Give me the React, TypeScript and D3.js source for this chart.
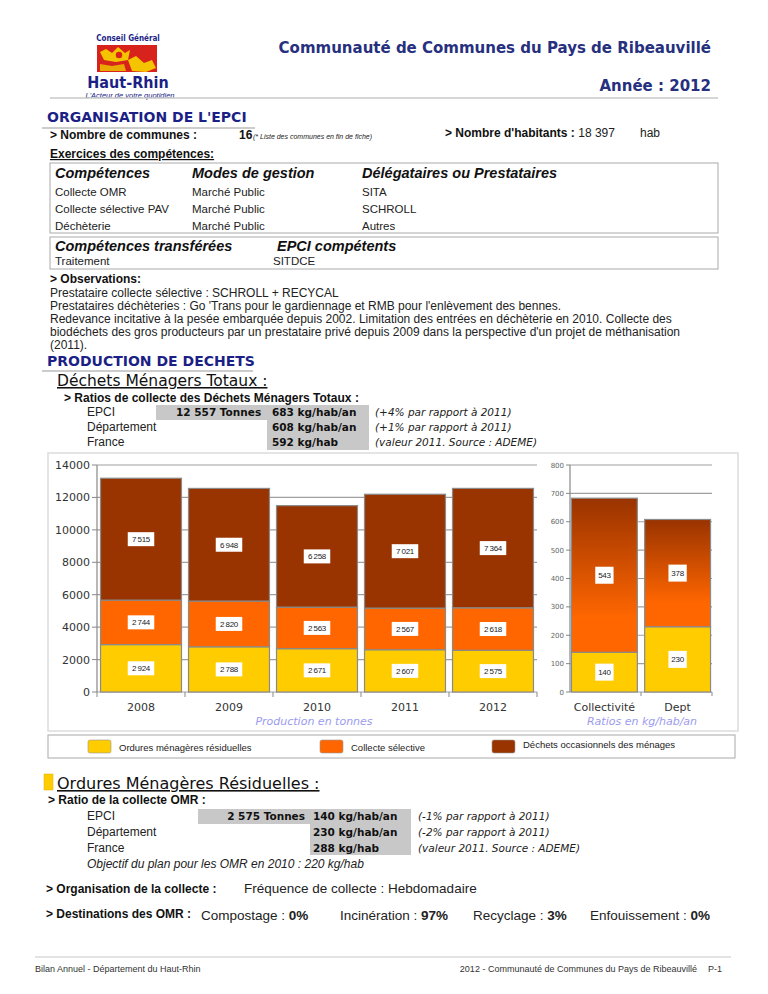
import * as d3 from "d3";

// Production en tonnes
const years = ["2008", "2009", "2010", "2011", "2012"];
const omr = [2924, 2788, 2671, 2607, 2575];
const collecteSelective = [2744, 2820, 2563, 2567, 2618];
const dechetsOccasionnels = [7515, 6948, 6258, 7021, 7364];
const tonnesTicks = [0, 2000, 4000, 6000, 8000, 10000, 12000, 14000];

// Ratios en kg/hab/an
const ratioCats = ["Collectivité", "Dept"];
const ratioOmr = [140, 230];
const ratioAutres = [543, 378];
const ratioTicks = [0, 100, 200, 300, 400, 500, 600, 700, 800];

const legendLabels = ["Ordures ménagères résiduelles", "Collecte sélective", "Déchets occasionnels des ménages"];
const colors = ["#FFCC00", "#FF6600", "#993300"];

const competences = [
  ["Collecte OMR", "Marché Public", "SITA"],
  ["Collecte sélective PAV", "Marché Public", "SCHROLL"],
  ["Déchèterie", "Marché Public", "Autres"],
];
const observations = [
  "Prestataire collecte sélective : SCHROLL + RECYCAL",
  "Prestataires déchèteries : Go 'Trans pour le gardiennage et RMB pour l'enlèvement des bennes.",
  "Redevance incitative à la pesée embarquée depuis 2002. Limitation des entrées en déchèterie en 2010. Collecte des",
  "biodéchets des gros producteurs par un prestataire privé depuis 2009 dans la perspective d'un projet de méthanisation",
  "(2011).",
];

const fr = d3.formatLocale({ decimal: ",", thousands: "\u2009", grouping: [3], currency: ["", ""] });
const fmt = fr.format(",");

const SANS = "'Liberation Sans', Arial, sans-serif";
const VERD = "'DejaVu Sans', Verdana, sans-serif";
const NAVY = "#1B1F86";
const TITLE = "#26307E";

// chart geometry
const Y0 = 692;
const YTOP = 465;

function DataLabel({ x, y, text, h = 14 }: { x: number; y: number; text: string; h?: number }) {
  const w = text.length * 4.1 + 6;
  return (
    <g>
      <rect x={x - w / 2} y={y - h / 2} width={w} height={h} fill="#fff" />
      <text x={x} y={y + 3} fontSize={8} fontFamily={SANS} fill="#222" textAnchor="middle" letterSpacing={-0.3}>
        {text}
      </text>
    </g>
  );
}

function TonnesChart() {
  const rows = years.map((year, i) => ({ year, omr: omr[i], cs: collecteSelective[i], dom: dechetsOccasionnels[i] }));
  const series = d3.stack<any>().keys(["omr", "cs", "dom"])(rows);
  const x = d3.scaleBand().domain(years).range([97, 537]).paddingInner(0.08).paddingOuter(0.04);
  const y = d3.scaleLinear().domain([0, 14000]).range([Y0, YTOP]);
  const step = x.step();
  return (
    <g>
      {tonnesTicks.map((t) => (
        <g key={t}>
          <line x1={97} x2={537} y1={y(t)} y2={y(t)} stroke="#a0a0a0" strokeWidth={1.2} />
          <line x1={92} x2={97} y1={y(t)} y2={y(t)} stroke="#888" />
          <text x={90} y={y(t) + 4} fontSize={11} fontFamily={VERD} fill="#333" textAnchor="end">
            {t}
          </text>
        </g>
      ))}
      <line x1={97} x2={97} y1={y(14000)} y2={y(0)} stroke="#888" strokeWidth={1.2} />
      {years.map((yr, i) => (
        <line key={yr} x1={97 + i * step} x2={97 + i * step} y1={Y0} y2={Y0 + 5} stroke="#888" />
      ))}
      <line x1={537} x2={537} y1={Y0} y2={Y0 + 5} stroke="#888" />
      {series.map((s, si) =>
        s.map((d, i) => (
          <rect
            key={si + "-" + i}
            x={x(years[i])}
            y={y(d[1])}
            width={x.bandwidth()}
            height={y(d[0]) - y(d[1])}
            fill={colors[si]}
            stroke="#8a8a8a"
            strokeWidth={1.2}
          />
        ))
      )}
      {series.map((s, si) =>
        s.map((d, i) => (
          <DataLabel
            key={"l" + si + "-" + i}
            x={(x(years[i]) as number) + x.bandwidth() / 2}
            y={y((d[0] + d[1]) / 2)}
            text={fmt(d[1] - d[0])}
          />
        ))
      )}
      {years.map((yr) => (
        <text key={yr} x={(x(yr) as number) + x.bandwidth() / 2} y={Y0 + 19} fontSize={11} fontFamily={VERD} fill="#333" textAnchor="middle">
          {yr}
        </text>
      ))}
      <text x={314} y={Y0 + 33} fontSize={11} fontFamily={VERD} fontStyle="italic" fill="#9b9bf0" textAnchor="middle">
        Production en tonnes
      </text>
    </g>
  );
}

function RatioChart() {
  const rows = ratioCats.map((cat, i) => ({ cat, omr: ratioOmr[i], autres: ratioAutres[i] }));
  const series = d3.stack<any>().keys(["omr", "autres"])(rows);
  const x = d3.scaleBand().domain(ratioCats).range([570, 712]).paddingInner(0.1).paddingOuter(0.02);
  const y = d3.scaleLinear().domain([0, 800]).range([Y0, YTOP]);
  return (
    <g>
      <defs>
        <linearGradient id="gradAutres" x1="0" y1="0" x2="0" y2="1">
          <stop offset="0%" stopColor="#993300" />
          <stop offset="78%" stopColor="#FF6600" />
          <stop offset="100%" stopColor="#FF6600" />
        </linearGradient>
      </defs>
      {ratioTicks.map((t) => (
        <g key={t}>
          <line x1={570} x2={712} y1={y(t)} y2={y(t)} stroke="#a0a0a0" strokeWidth={1.2} />
          <line x1={566} x2={570} y1={y(t)} y2={y(t)} stroke="#888" />
          <text x={564} y={y(t) + 2.5} fontSize={7} fontFamily={VERD} fill="#666" textAnchor="end">
            {t}
          </text>
        </g>
      ))}
      <line x1={570} x2={570} y1={y(800)} y2={y(0)} stroke="#888" strokeWidth={1.2} />
      <line x1={641} x2={641} y1={Y0} y2={Y0 + 4} stroke="#888" />
      <line x1={712} x2={712} y1={Y0} y2={Y0 + 4} stroke="#888" />
      {series.map((s, si) =>
        s.map((d, i) => (
          <rect
            key={si + "-" + i}
            x={x(ratioCats[i])}
            y={y(d[1])}
            width={x.bandwidth()}
            height={y(d[0]) - y(d[1])}
            fill={si === 0 ? colors[0] : "url(#gradAutres)"}
            stroke="#8a8a8a"
            strokeWidth={1.2}
          />
        ))
      )}
      {series.map((s, si) =>
        s.map((d, i) => (
          <DataLabel
            key={"l" + si + "-" + i}
            x={(x(ratioCats[i]) as number) + x.bandwidth() / 2}
            y={y((d[0] + d[1]) / 2)}
            text={fmt(d[1] - d[0])}
            h={17}
          />
        ))
      )}
      {ratioCats.map((c) => (
        <text key={c} x={(x(c) as number) + x.bandwidth() / 2} y={Y0 + 19} fontSize={11} fontFamily={VERD} fill="#333" textAnchor="middle">
          {c}
        </text>
      ))}
      <text x={642} y={Y0 + 33} fontSize={11} fontFamily={VERD} fontStyle="italic" fill="#9b9bf0" textAnchor="middle">
        Ratios en kg/hab/an
      </text>
    </g>
  );
}

function Legend() {
  const xs = [88, 320, 492];
  const top = 735;
  return (
    <g>
      <rect x={48} y={top} width={687} height={23} fill="#fff" stroke="#a8a8a8" />
      {legendLabels.map((l, i) => (
        <g key={l}>
          <rect x={xs[i]} y={top + 5} width={23} height={13} rx={2} fill={colors[i]} stroke="#999" strokeWidth={0.6} />
          <text x={xs[i] + 31} y={i === 2 ? top + 13 : top + 16} fontSize={9.5} fontFamily={SANS} fill="#222">
            {l}
          </text>
        </g>
      ))}
    </g>
  );
}

function Logo() {
  return (
    <g>
      <text x={128} y={41} fontSize={8} fontWeight="bold" fontFamily="'DejaVu Sans Condensed', 'DejaVu Sans', sans-serif" fill={NAVY} textAnchor="middle">
        Conseil Général
      </text>
      <rect x={97} y={45} width={60} height={27} fill="#D8231C" />
      <path d="M100,52 L106,49 L112,53 L118,47 L125,53 L130,50 L128,60 L116,62 L104,60 Z" fill="#F5C400" />
      <path d="M128,60 L136,56 L144,63 L152,60 L156,68 L146,72 L132,71 Z" fill="#F5C400" />
      <circle cx={119} cy={55} r={4} fill="#D8231C" stroke="#F5C400" strokeWidth={1.5} />
      <path d="M100,64 L112,66 L124,64 L126,71 L100,71 Z" fill="#E9A900" />
      <text x={128} y={88} fontSize={16} fontWeight="bold" fontFamily="'DejaVu Sans Condensed', 'DejaVu Sans', sans-serif" fill={NAVY} textAnchor="middle">
        Haut-Rhin
      </text>
      <text x={130} y={98} fontSize={7.5} fontStyle="italic" fontFamily={SANS} fill={NAVY} textAnchor="middle">
        L'Acteur de votre quotidien
      </text>
    </g>
  );
}

export default function App() {
  const t = { fontFamily: SANS, fontSize: 12, fill: "#222" } as const;
  const tr = { fontFamily: SANS, fontSize: 11.5, fill: "#222" } as const;
  const b = { fontFamily: SANS, fontSize: 12, fontWeight: "bold", fill: "#111" } as const;
  const h = { fontFamily: SANS, fontSize: 14.5, fontWeight: "bold", fontStyle: "italic", fill: "#111" } as const;
  const sec = { fontFamily: VERD, fontSize: 14, fontWeight: "bold", fill: NAVY } as const;
  const vb = { fontFamily: VERD, fontSize: 10.5, fontWeight: "bold", fill: "#111" } as const;
  const vi = { fontFamily: VERD, fontSize: 10.5, fontStyle: "italic", fill: "#222" } as const;
  const big = { fontFamily: SANS, fontSize: 13.5, fill: "#222" } as const;
  const grey = "#c8c8c8";
  return (
    <svg width={768} height={994} style={{ position: "absolute", left: 0, top: 0, background: "#fff" }}>
      <rect width={768} height={994} fill="#fff" />
      <Logo />
      <text x={711} y={53} fontFamily={VERD} fontSize={15} fontWeight="bold" fill={TITLE} textAnchor="end">
        Communauté de Communes du Pays de Ribeauvillé
      </text>
      <text x={711} y={91} fontFamily={VERD} fontSize={15} fontWeight="bold" fill={TITLE} textAnchor="end">
        Année : 2012
      </text>
      <line x1={50} x2={718} y1={98} y2={98} stroke="#c8c8c8" strokeWidth={1.5} />

      <text x={47} y={122} {...sec}>ORGANISATION DE L'EPCI</text>
      <line x1={42} x2={255} y1={128} y2={128} stroke="#bbb" strokeWidth={1.5} />
      <text x={50} y={139} {...b}>&gt; Nombre de communes :</text>
      <text x={239} y={139} {...b} fontSize={12}>16</text>
      <text x={253} y={139} fontFamily={SANS} fontSize={7} fontStyle="italic" fill="#222">
        (* Liste des communes en fin de fiche)
      </text>
      <text x={445} y={137} {...b}>&gt; Nombre d'habitants : <tspan fontWeight="normal" fill="#222">18 397</tspan></text>
      <text x={640} y={137} {...t}>hab</text>
      <text x={50} y={158} {...b} textDecoration="underline">Exercices des compétences:</text>

      <rect x={50} y={163} width={668} height={70} fill="none" stroke="#aaa" />
      <text x={55} y={178} {...h}>Compétences</text>
      <text x={192} y={178} {...h}>Modes de gestion</text>
      <text x={362} y={178} {...h}>Délégataires ou Prestataires</text>
      {competences.map((r, i) => (
        <g key={r[0]}>
          <text x={55} y={196 + i * 17} {...tr}>{r[0]}</text>
          <text x={192} y={196 + i * 17} {...tr}>{r[1]}</text>
          <text x={362} y={196 + i * 17} {...tr}>{r[2]}</text>
        </g>
      ))}
      <rect x={50} y={237} width={668} height={32} fill="none" stroke="#aaa" />
      <text x={55} y={251} {...h}>Compétences transférées</text>
      <text x={277} y={251} {...h}>EPCI compétents</text>
      <text x={55} y={265} {...tr}>Traitement</text>
      <text x={273} y={265} {...tr}>SITDCE</text>

      <text x={50} y={283} {...b}>&gt; Observations:</text>
      {observations.map((o, i) => (
        <text key={i} x={50} y={297 + i * 13} {...t}>{o}</text>
      ))}

      <text x={47} y={366} {...sec}>PRODUCTION DE DECHETS</text>
      <line x1={42} x2={253} y1={371} y2={371} stroke="#bbb" strokeWidth={1.5} />
      <text x={57} y={386} fontFamily={VERD} fontSize={15.5} fill="#111" textDecoration="underline">
        Déchets Ménagers Totaux :
      </text>
      <text x={64} y={402} {...b}>&gt; Ratios de collecte des Déchets Ménagers Totaux :</text>
      <rect x={156} y={405} width={213} height={15} fill={grey} />
      <rect x={267} y={420} width={102} height={30} fill={grey} />
      <text x={87} y={416} {...t}>EPCI</text>
      <text x={87} y={431} {...t}>Département</text>
      <text x={87} y={446} {...t}>France</text>
      <text x={176} y={416} {...vb}>12 557 Tonnes</text>
      <text x={272} y={416} {...vb}>683 kg/hab/an</text>
      <text x={272} y={431} {...vb}>608 kg/hab/an</text>
      <text x={272} y={446} {...vb}>592 kg/hab</text>
      <text x={375} y={416} {...vi}>(+4% par rapport à 2011)</text>
      <text x={375} y={431} {...vi}>(+1% par rapport à 2011)</text>
      <text x={375} y={446} {...vi}>(valeur 2011. Source : ADEME)</text>

      <rect x={48} y={453} width={690} height={278} fill="#fff" stroke="#dcdcdc" strokeWidth={1.5} />
      <TonnesChart />
      <RatioChart />
      <Legend />

      <rect x={44} y={774} width={9} height={16} fill="#FFCC00" stroke="#e0b000" strokeWidth={0.5} />
      <text x={57} y={789} fontFamily={VERD} fontSize={16} fill="#111" textDecoration="underline">
        Ordures Ménagères Résiduelles :
      </text>
      <text x={48} y={804} {...b}>&gt; Ratio de la collecte OMR :</text>
      <rect x={198} y={809} width={112} height={15} fill={grey} />
      <rect x={310} y={809} width={101} height={46} fill={grey} />
      <text x={87} y={820} {...t}>EPCI</text>
      <text x={87} y={836} {...t}>Département</text>
      <text x={87} y={852} {...t}>France</text>
      <text x={305} y={820} {...vb} textAnchor="end">2 575 Tonnes</text>
      <text x={313} y={820} {...vb}>140 kg/hab/an</text>
      <text x={313} y={836} {...vb}>230 kg/hab/an</text>
      <text x={313} y={852} {...vb}>288 kg/hab</text>
      <text x={418} y={820} {...vi}>(-1% par rapport à 2011)</text>
      <text x={418} y={836} {...vi}>(-2% par rapport à 2011)</text>
      <text x={418} y={852} {...vi}>(valeur 2011. Source : ADEME)</text>
      <text x={87} y={868} {...t} fontStyle="italic">Objectif du plan pour les OMR en 2010 : 220 kg/hab</text>

      <text x={46} y={893} {...b}>&gt; Organisation de la collecte :</text>
      <text x={244} y={893} {...big}>Fréquence de collecte :  Hebdomadaire</text>

      <text x={46} y={918} {...b}>&gt; Destinations des OMR :</text>
      <text x={201} y={920} {...big}>Compostage :  <tspan fontWeight="bold">0%</tspan></text>
      <text x={340} y={920} {...big}>Incinération : <tspan fontWeight="bold">97%</tspan></text>
      <text x={473} y={920} {...big}>Recyclage : <tspan fontWeight="bold">3%</tspan></text>
      <text x={590} y={920} {...big}>Enfouissement :  <tspan fontWeight="bold">0%</tspan></text>

      <line x1={35} x2={731} y1={957} y2={957} stroke="#c8c8c8" strokeWidth={1.2} />
      <text x={35} y={972} fontFamily={SANS} fontSize={9} fill="#333">Bilan Annuel - Département du Haut-Rhin</text>
      <text x={697} y={972} fontFamily={SANS} fontSize={9} fill="#333" textAnchor="end">
        2012 - Communauté de Communes du Pays de Ribeauvillé
      </text>
      <text x={722} y={972} fontFamily={SANS} fontSize={9} fill="#333" textAnchor="end">P-1</text>
    </svg>
  );
}
